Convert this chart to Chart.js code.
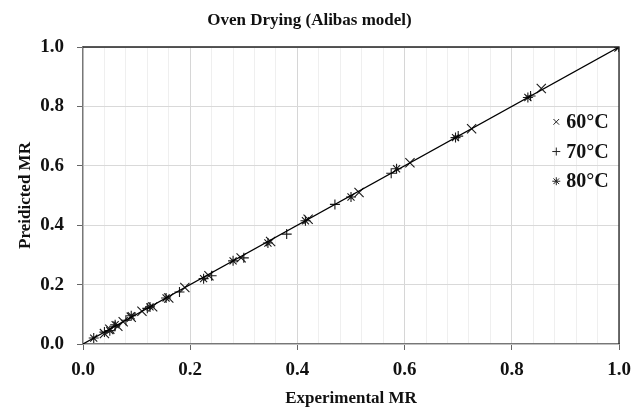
<!DOCTYPE html>
<html>
<head>
<meta charset="utf-8">
<script src="https://cdn.jsdelivr.net/npm/chart.js@4"></script>
<style>
html,body{margin:0;padding:0;background:#fff;}
#wrap{width:640px;height:418px;}
</style>
</head>
<body>
<div id="wrap"><canvas id="c" width="640" height="418"></canvas></div>
<script>
// ---- data ----
const seriesNames = ['60°C', '70°C', '80°C'];
const exp60  = [1.0, 0.855, 0.725, 0.61, 0.515, 0.42, 0.35, 0.295, 0.235, 0.19, 0.16, 0.13, 0.11, 0.09, 0.075, 0.065, 0.05, 0.04];
const pred60 = [1.0, 0.86, 0.725, 0.61, 0.51, 0.42, 0.345, 0.29, 0.23, 0.19, 0.155, 0.125, 0.11, 0.09, 0.075, 0.06, 0.05, 0.035];
const exp70  = [1.0, 0.835, 0.70, 0.575, 0.47, 0.38, 0.30, 0.24, 0.18, 0.12, 0.08, 0.06, 0.04];
const pred70 = [1.0, 0.835, 0.70, 0.575, 0.47, 0.37, 0.29, 0.23, 0.175, 0.12, 0.08, 0.06, 0.04];
const exp80  = [1.0, 0.83, 0.695, 0.585, 0.50, 0.415, 0.345, 0.28, 0.225, 0.155, 0.125, 0.09, 0.06, 0.05, 0.02];
const pred80 = [1.0, 0.83, 0.695, 0.59, 0.495, 0.415, 0.34, 0.28, 0.22, 0.155, 0.125, 0.095, 0.065, 0.045, 0.02];
const fitLine = [0, 1];          // y = x reference line end points
const yTicks = [0, 0.2, 0.4, 0.6, 0.8, 1.0];

const pts = (xs, ys) => xs.map((v, i) => ({x: v, y: ys[i]}));
const FONT = "'Liberation Serif', 'Times New Roman', serif";
const isMajor = v => Math.abs(v * 5 - Math.round(v * 5)) < 1e-6;

const styles = [
  {pointStyle: 'crossRot', radius: 6.5},
  {pointStyle: 'cross', radius: 5},
  {pointStyle: 'star', radius: 5}
];

const legendPlugin = {
  id: 'insideLegend',
  afterDraw(chart) {
    const ctx = chart.ctx;
    const a = chart.chartArea;
    // plot frame top/right
    ctx.save();
    ctx.strokeStyle = '#222';
    ctx.lineWidth = 1.3;
    ctx.beginPath();
    ctx.moveTo(a.left, a.top); ctx.lineTo(a.right, a.top); ctx.lineTo(a.right, a.bottom);
    ctx.stroke();
    // legend
    const x0 = a.left + (a.right - a.left) * 0.883;
    const rows = [0.748, 0.648, 0.548];
    ctx.font = 'bold 20px ' + FONT;
    ctx.fillStyle = '#111';
    ctx.textBaseline = 'middle';
    ctx.textAlign = 'left';
    seriesNames.forEach((name, i) => {
      const y = chart.scales.y.getPixelForValue(rows[i]);
      ctx.strokeStyle = '#222';
      ctx.lineWidth = 1;
      Chart.helpers.drawPoint(ctx, {pointStyle: styles[i].pointStyle, radius: 4, borderWidth: 1}, x0, y);
      ctx.fillText(name, x0 + 10, y + 1);
    });
    ctx.restore();
  }
};

const mk = (label, data, st) => ({
  label, data, type: 'scatter', showLine: false,
  pointStyle: st.pointStyle, pointRadius: st.radius, pointHoverRadius: st.radius,
  borderColor: '#1a1a1a', backgroundColor: '#1a1a1a', pointBorderWidth: 1.1
});

new Chart(document.getElementById('c'), {
  type: 'scatter',
  data: {
    datasets: [
      {label: 'fit', type: 'line', data: pts(fitLine, fitLine), borderColor: '#000', borderWidth: 1.2, pointRadius: 0, fill: false},
      mk(seriesNames[0], pts(exp60, pred60), styles[0]),
      mk(seriesNames[1], pts(exp70, pred70), styles[1]),
      mk(seriesNames[2], pts(exp80, pred80), styles[2])
    ]
  },
  options: {
    responsive: false,
    animation: false,
    devicePixelRatio: 1,
    layout: {padding: {left: 0, right: 21, top: 0, bottom: 0}},
    plugins: {
      legend: {display: false},
      tooltip: {enabled: false},
      title: {
        display: true, text: 'Oven Drying (Alibas model)', color: '#111',
        font: {family: FONT, size: 17, weight: 'bold'},
        padding: {top: 10, bottom: 16.6}
      }
    },
    scales: {
      x: {
        type: 'linear', min: 0, max: 1,
        afterFit: s => { s.height = 74; },
        ticks: {
          stepSize: 0.04, autoSkip: false, maxRotation: 0, padding: 9,
          color: '#111', font: {family: FONT, size: 19, weight: 'bold'},
          callback: v => isMajor(v) ? v.toFixed(1) : ''
        },
        grid: {
          color: c => isMajor(c.tick.value) ? '#d6d6d6' : '#efefef',
          tickColor: c => isMajor(c.tick.value) ? '#666' : 'rgba(0,0,0,0)',
          tickLength: 6, lineWidth: 1
        },
        border: {color: '#777', width: 1.3},
        title: {display: true, text: 'Experimental MR', color: '#111',
          font: {family: FONT, size: 17, weight: 'bold'}, padding: {top: 4, bottom: 9}}
      },
      y: {
        type: 'linear', min: 0, max: 1,
        afterFit: s => { s.width = 83; },
        afterBuildTicks: s => { s.ticks = yTicks.map(v => ({value: v})); },
        ticks: {
          padding: 13, color: '#111', font: {family: FONT, size: 19, weight: 'bold'},
          callback: v => v.toFixed(1)
        },
        grid: {color: '#d9d9d9', tickColor: '#666', tickLength: 6},
        border: {color: '#777', width: 1.3},
        title: {display: true, text: 'Preidicted MR', color: '#111',
          font: {family: FONT, size: 17, weight: 'bold'}, padding: {top: 15, bottom: 4}}
      }
    }
  },
  plugins: [legendPlugin]
});
</script>
</body>
</html>
